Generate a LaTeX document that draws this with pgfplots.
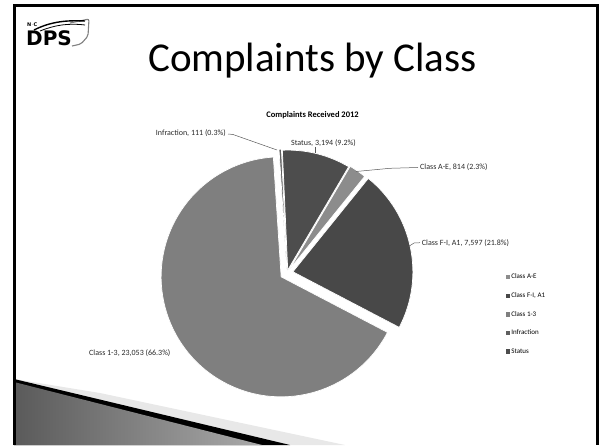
\documentclass[border=0pt]{standalone}
\usepackage{pgfplots}
\usepackage{pgfplotstable}
\usepackage{fontspec}
\setmainfont{Carlito}
\newfontfamily\logofont{DejaVu Sans}
\pgfplotsset{compat=1.18}

\definecolor{piecol0}{HTML}{8C8C8C} % Class A-E
\definecolor{piecol1}{HTML}{484848} % Class F-I, A1
\definecolor{piecol2}{HTML}{7F7F7F} % Class 1-3
\definecolor{piecol3}{HTML}{5F5F5F} % Infraction
\definecolor{piecol4}{HTML}{4D4D4D} % Status
\definecolor{leader}{HTML}{595959}

% complaints received 2012; explode = offset of the slice (px)
\pgfplotstableread{
value explode
814   4
7597  6
23053 7
111   4
3194  3
}\piedata

\newcommand\piecx{287}
\newcommand\piecy{273}
\newcommand\pier{120}
\newcommand\piefirst{30.5}

\pgfplotsset{sqlegend/.style={legend image code/.code={\fill[##1, draw=none] (0pt,-2.3pt) rectangle (4.6pt,2.3pt);}}}

\begin{document}
\begin{tikzpicture}
% slice angles (clockwise from 12 o'clock, as in the spreadsheet)
\xdef\pietotal{0}%
\foreach \i in {0,...,4}{%
  \pgfplotstablegetelem{\i}{value}\of\piedata
  \xdef\pietotal{\fpeval{\pietotal+\pgfplotsretval}}%
}%
\xdef\piecum{0}%
\foreach \i in {0,...,4}{%
  \pgfplotstablegetelem{\i}{value}\of\piedata
  \edef\v{\pgfplotsretval}%
  \pgfplotstablegetelem{\i}{explode}\of\piedata
  \edef\e{\pgfplotsretval}%
  \edef\a{\fpeval{\piefirst+360*\piecum/\pietotal}}%
  \xdef\piecum{\fpeval{\piecum+\v}}%
  \edef\b{\fpeval{\piefirst+360*\piecum/\pietotal}}%
  \edef\m{\fpeval{(\a+\b)/2}}%
  \expandafter\xdef\csname pcx\i\endcsname{\fpeval{round(\piecx+\e*sind(\m),4)}}%
  \expandafter\xdef\csname pcy\i\endcsname{\fpeval{round(\piecy-\e*cosd(\m),4)}}%
  \expandafter\xdef\csname pa\i\endcsname{\fpeval{round(90-\a,4)}}%
  \expandafter\xdef\csname pb\i\endcsname{\fpeval{round(90-\b,4)}}%
}%
\begin{axis}[
    width=602pt, height=445pt, scale only axis,
    xmin=0, xmax=602, ymin=0, ymax=445, y dir=reverse,
    hide axis, clip=false,
    legend cell align=left,
    legend style={at={(0.8397,0.387)}, anchor=north west, draw=none, fill=none,
        font=\fontsize{7}{8}\selectfont, row sep=10.3pt, inner sep=0pt,
        nodes={inner sep=1pt}},
]
% whole slide as bounding box
\path (axis cs:0,0) rectangle (axis cs:602,445);
% bottom decoration of the slide
\fill[fill={rgb,255:red,232;green,232;blue,232}] (axis cs:14,379) -- (axis cs:100,393) -- (axis cs:345,445) -- (axis cs:14,445) -- cycle;
\fill[black] (axis cs:14,379) -- (axis cs:290,445) -- (axis cs:14,445) -- cycle;
\shade[left color={rgb,255:red,90;green,90;blue,90}, right color={rgb,255:red,170;green,170;blue,170}]
    (axis cs:14,382) -- (axis cs:262,445) -- (axis cs:14,445) -- cycle;
% slide frame
\draw[line width=2.6pt] (axis cs:14.5,445) -- (axis cs:14.5,5.5) -- (axis cs:597.5,5.5) -- (axis cs:597.5,445);

% logo
\draw[gray, line width=1.1pt, rounded corners=2pt] (axis cs:70,23) -- (axis cs:89,19) -- (axis cs:88,36) -- (axis cs:81,44) -- (axis cs:72,46);
\draw[black, line width=1.4pt] (axis cs:34,30) .. controls (axis cs:50,22) and (axis cs:65,20) .. (axis cs:85,21);
\draw[black, line width=0.8pt] (axis cs:40,31) .. controls (axis cs:55,25) and (axis cs:68,23) .. (axis cs:85,25);
\node[anchor=base west, inner sep=0pt, font=\logofont\bfseries\fontsize{5}{5}\selectfont] at (axis cs:27,26.5) {N$\cdot$C};
\node[anchor=base west, inner sep=0pt, font=\logofont\bfseries\fontsize{20}{21}\selectfont] at (axis cs:26,45.5) {DPS};

% titles
\node[anchor=base, inner sep=0pt, font=\fontsize{41}{48}\selectfont] at (axis cs:312.5,72) {Complaints by Class};
\node[anchor=base, inner sep=0pt, font=\bfseries\fontsize{8.5}{10}\selectfont] at (axis cs:312.5,118) {Complaints Received 2012};

% slices
\pgfplotsinvokeforeach{0,...,4}{%
  \edef\tmp{\noexpand\fill[fill=piecol#1, draw=white, line width=0.7pt]
    (axis cs:\csname pcx#1\endcsname,\csname pcy#1\endcsname) -- ++(\csname pa#1\endcsname:\pier pt)
    arc[start angle=\csname pa#1\endcsname, end angle=\csname pb#1\endcsname, radius=\pier pt] -- cycle;}%
  \tmp
}

% data labels
\draw[leader, line width=0.5pt] (axis cs:228,134) -- (axis cs:233,134.5) -- (axis cs:277,150);
\draw[leader, line width=0.5pt] (axis cs:315,147) -- (axis cs:315,153);
\draw[leader, line width=0.5pt] (axis cs:418,167.5) -- (axis cs:390,168.3) -- (axis cs:356,171.5);
\draw[leader, line width=0.5pt] (axis cs:420,242.7) -- (axis cs:414,243) -- (axis cs:408.5,246.5);
\begin{scope}[every node/.style={anchor=base west, inner sep=0pt, font=\fontsize{8}{9.6}\selectfont, text={rgb,255:red,40;green,40;blue,40}}]
\node at (axis cs:155.7,136) {Infraction, 111 (0.3\%)};
\node at (axis cs:291,145.5) {Status, 3,194 (9.2\%)};
\node at (axis cs:420,169.5) {Class A-E, 814 (2.3\%)};
\node at (axis cs:421.7,245.5) {Class F-I, A1, 7,597 (21.8\%)};
\node at (axis cs:89,355) {Class 1-3, 23,053 (66.3\%)};
\end{scope}

\addlegendimage{sqlegend, fill=piecol0}
\addlegendentry{Class A-E}
\addlegendimage{sqlegend, fill=piecol1}
\addlegendentry{Class F-I, A1}
\addlegendimage{sqlegend, fill=piecol2}
\addlegendentry{Class 1-3}
\addlegendimage{sqlegend, fill=piecol3}
\addlegendentry{Infraction}
\addlegendimage{sqlegend, fill=piecol4}
\addlegendentry{Status}
\end{axis}
\end{tikzpicture}
\end{document}
